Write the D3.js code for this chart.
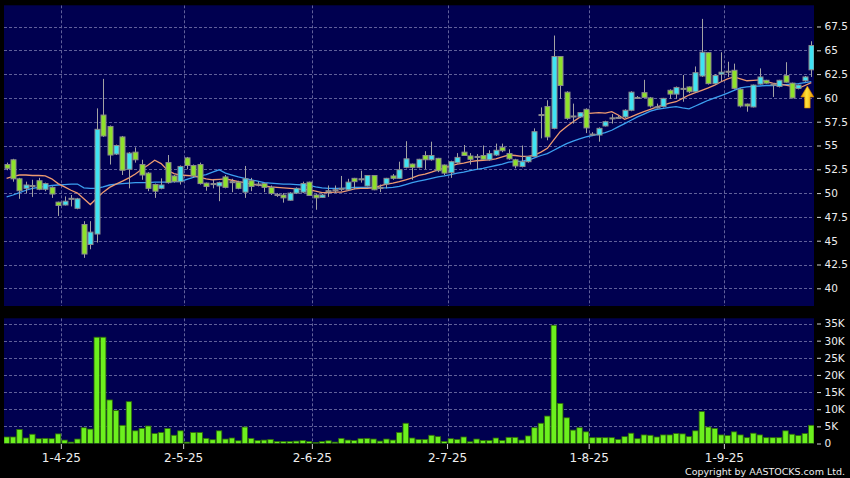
<!DOCTYPE html>
<html><head><meta charset="utf-8">
<script src="https://cdn.jsdelivr.net/npm/d3@7"></script>
<style>html,body{margin:0;padding:0;background:#000;} svg{display:block;}</style>
</head><body>
<svg id="chart" width="850" height="478"></svg>
<script>
// ---------------- DATA ----------------
const dates = [
"2025-03-19","2025-03-20","2025-03-21","2025-03-24","2025-03-25","2025-03-26","2025-03-27","2025-03-28","2025-03-31",
"2025-04-01","2025-04-02","2025-04-03","2025-04-07","2025-04-08","2025-04-09","2025-04-10","2025-04-11","2025-04-14","2025-04-15","2025-04-16","2025-04-17","2025-04-22","2025-04-23","2025-04-24","2025-04-25","2025-04-28","2025-04-29","2025-04-30",
"2025-05-02","2025-05-06","2025-05-07","2025-05-08","2025-05-09","2025-05-12","2025-05-13","2025-05-14","2025-05-15","2025-05-16","2025-05-19","2025-05-20","2025-05-21","2025-05-22","2025-05-23","2025-05-26","2025-05-27","2025-05-28","2025-05-29","2025-05-30",
"2025-06-02","2025-06-03","2025-06-04","2025-06-05","2025-06-06","2025-06-09","2025-06-10","2025-06-11","2025-06-12","2025-06-13","2025-06-16","2025-06-17","2025-06-18","2025-06-19","2025-06-20","2025-06-23","2025-06-24","2025-06-25","2025-06-26","2025-06-27","2025-06-30",
"2025-07-02","2025-07-03","2025-07-04","2025-07-07","2025-07-08","2025-07-09","2025-07-10","2025-07-11","2025-07-14","2025-07-15","2025-07-16","2025-07-17","2025-07-18","2025-07-21","2025-07-22","2025-07-23","2025-07-24","2025-07-25","2025-07-28","2025-07-29","2025-07-30","2025-07-31",
"2025-08-01","2025-08-04","2025-08-05","2025-08-06","2025-08-07","2025-08-08","2025-08-11","2025-08-12","2025-08-13","2025-08-14","2025-08-15","2025-08-18","2025-08-19","2025-08-20","2025-08-21","2025-08-22","2025-08-25","2025-08-26","2025-08-27","2025-08-28","2025-08-29",
"2025-09-01","2025-09-02","2025-09-03","2025-09-04","2025-09-05","2025-09-08","2025-09-09","2025-09-10","2025-09-11","2025-09-12","2025-09-15","2025-09-16","2025-09-17","2025-09-18"
];

const open = [
53.0,53.5,51.5,50.5,50.8,51.3,50.4,50.6,49.05,48.75,49.45,48.4,46.7,44.6,45.7,58.2,57.0,54.1,55.9,52.5,
54.3,53.0,52.1,50.9,50.5,53.2,51.8,51.2,53.7,52.9,53.0,51.05,51.0,50.75,51.7,51.2,51.15,50.1,51.3,50.95,
51.0,50.6,49.85,49.8,49.25,50.0,50.1,51.15,49.8,49.55,50.25,50.35,50.5,50.35,51.55,51.5,50.75,51.85,50.6,50.95,
51.8,51.55,52.7,53.05,52.7,53.95,53.5,53.65,52.95,52.15,53.2,54.3,53.9,53.85,53.95,53.5,54.0,54.8,54.15,53.5,
52.8,53.3,53.85,58.25,59.1,56.8,64.35,60.6,58.1,58.0,58.8,56.2,56.1,57.05,57.9,57.95,58.0,58.7,60.05,60.55,
60.0,59.05,59.1,60.8,60.4,61.0,61.15,60.65,62.3,64.75,61.5,62.5,62.8,62.9,60.9,59.35,59.05,61.45,61.85,61.45,
61.2,62.35,61.55,61.0,61.8,62.95
];
const high = [
53.2,53.6,51.6,51.2,51.4,51.6,51.1,50.7,49.1,49.65,49.8,49.5,47.05,47.05,58.9,62.0,57.1,55.1,56.0,54.3,
54.8,53.5,52.2,51.0,51.55,54.0,51.9,52.9,53.8,53.0,53.2,51.1,51.4,51.2,51.9,51.5,51.3,52.85,51.6,51.2,
51.1,50.8,50.0,50.0,50.1,50.6,51.2,51.2,49.9,49.9,50.8,50.8,51.8,51.5,51.6,52.35,51.9,51.9,50.9,51.6,
52.0,53.3,55.45,53.1,53.6,54.4,55.4,53.7,53.0,53.4,54.2,55.05,54.2,54.1,55.0,54.5,55.2,55.2,54.6,53.6,
55.0,53.9,56.8,59.0,59.75,66.55,64.4,60.7,59.4,58.5,58.9,56.4,56.9,57.6,58.3,58.1,58.8,60.7,60.2,61.9,
60.1,59.4,60.0,60.9,61.2,62.4,61.2,63.3,68.3,64.8,62.5,64.8,63.8,63.6,61.0,59.4,61.4,63.1,61.9,61.5,
61.9,63.75,61.6,61.4,62.3,65.95
];
const low = [
52.4,51.2,49.4,50.0,49.6,50.3,50.2,49.5,47.6,48.7,48.6,48.3,43.2,44.1,44.8,55.9,53.0,54.0,51.9,50.5,
53.2,51.4,50.2,49.5,50.4,51.0,51.1,50.9,52.5,51.6,50.9,50.25,50.5,49.15,50.5,50.1,50.4,49.5,50.2,50.7,
50.1,49.8,49.6,49.0,49.2,49.9,50.0,49.7,48.25,49.5,49.6,50.0,50.2,50.3,50.4,51.1,50.7,50.3,50.1,50.5,
51.4,51.5,52.6,51.4,52.6,52.5,53.4,52.2,51.9,51.6,53.1,53.9,53.0,52.5,53.5,53.4,53.9,54.3,53.5,52.6,
52.7,53.2,53.8,55.75,55.55,56.7,59.9,57.7,57.3,57.9,56.3,56.0,55.4,57.0,57.3,57.8,57.9,58.6,59.9,60.0,
59.0,58.9,59.0,59.9,59.9,59.6,60.5,60.6,62.2,61.4,61.4,61.7,62.2,60.9,59.0,58.55,59.0,61.4,61.5,60.1,
61.1,61.6,59.95,60.9,61.7,62.2
];
const close = [
52.6,51.5,50.25,50.85,50.75,50.4,51.0,49.9,48.7,49.15,49.4,49.4,43.6,45.9,56.7,56.0,54.0,55.0,52.4,54.2,
53.5,51.9,50.5,50.2,50.85,51.1,51.2,52.8,52.9,51.8,51.0,50.7,50.95,51.1,50.6,51.15,50.5,51.5,50.7,50.9,
50.6,49.95,49.8,49.5,50.0,50.5,51.0,49.75,49.5,49.8,50.2,50.3,50.45,51.15,51.2,51.45,51.85,50.35,50.55,51.55,
51.55,52.45,53.6,52.7,53.55,53.5,53.95,52.35,52.1,53.3,53.75,53.95,53.55,53.8,53.55,54.15,54.5,54.45,53.6,52.85,
53.3,53.85,56.45,58.2,55.9,64.35,61.3,57.85,58.05,58.45,56.85,56.15,56.8,57.5,57.85,57.9,58.7,60.6,60.0,60.05,
59.15,59.0,59.95,60.4,61.1,60.95,60.65,62.65,64.8,61.5,62.35,62.7,62.75,61.0,59.15,59.15,61.35,62.2,61.55,61.4,
61.85,61.65,60.0,61.35,62.2,65.5
];
// volume in thousands of shares
const volumeK = [
1.9,1.9,4.1,1.6,2.7,1.4,1.5,1.4,2.8,1.0,0.4,1.3,4.6,4.2,31.0,31.0,12.7,9.6,5.3,12.2,
3.7,4.4,5.1,2.9,3.2,4.4,2.4,3.7,0.4,3.2,3.2,1.5,1.1,3.7,1.3,1.6,0.8,4.8,1.5,0.9,
1.0,1.2,0.6,0.6,0.6,0.7,0.9,0.6,0.3,0.6,0.8,0.4,1.5,1.0,0.9,1.4,1.5,1.3,0.7,1.3,
1.0,3.2,5.9,1.6,1.2,1.2,2.4,2.0,0.6,1.4,1.2,1.9,0.5,1.3,0.9,0.9,1.6,0.9,1.8,1.8,
1.0,2.2,4.6,5.9,8.0,34.5,11.7,7.5,3.9,4.6,3.4,1.7,1.7,1.7,1.7,1.2,2.0,3.0,1.4,2.5,
2.4,1.9,2.5,2.5,2.9,2.8,2.0,3.7,9.3,4.8,4.4,2.5,2.3,3.4,2.5,1.7,3.0,2.5,1.7,1.7,
1.7,3.7,2.7,2.3,2.9,5.3
];
// moving averages as drawn on the chart (short = orange, long = blue)
const maShort = [
51.55,51.75,51.9,51.9,51.85,51.85,51.8,51.5,51.0,50.65,50.3,50.0,49.4,48.8,49.45,50.1,50.6,50.95,51.25,51.6,
52.0,52.5,52.95,53.45,53.1,52.4,52.05,51.9,51.85,51.8,51.65,51.5,51.4,51.45,51.5,51.35,51.2,51.1,50.95,50.85,
50.75,50.65,50.6,50.55,50.5,50.45,50.4,50.35,50.2,50.05,50.05,50.1,50.1,50.25,50.45,50.5,50.5,50.55,50.75,50.95,
51.05,51.2,51.4,51.6,51.85,52.0,52.2,52.45,52.65,52.85,53.05,53.15,53.3,53.4,53.45,53.5,53.6,53.8,54.0,53.95,
53.85,53.85,54.0,54.3,54.7,55.6,56.45,57.0,57.5,57.95,58.35,58.4,58.45,58.4,58.55,58.2,57.75,58.0,58.3,58.55,
58.8,59.05,59.25,59.45,59.6,59.95,60.3,60.55,60.8,61.05,61.35,61.7,62.0,62.2,62.0,61.8,61.85,61.9,61.7,61.55,
61.45,61.35,61.2,61.0,61.3,61.6
];
const maLong = [
49.6,49.8,50.05,50.3,50.5,50.6,50.7,50.8,50.85,50.9,50.95,50.95,50.55,50.5,50.5,50.65,50.85,50.95,51.0,51.05,
51.1,51.1,51.1,51.15,51.15,51.15,51.2,51.2,51.45,51.65,51.8,51.95,52.2,52.45,52.1,51.9,51.7,51.55,51.4,51.25,
51.1,51.05,51.0,50.95,50.95,50.9,50.85,50.8,50.65,50.55,50.5,50.5,50.5,50.55,50.6,50.6,50.6,50.6,50.55,50.55,
50.6,50.7,50.9,51.1,51.25,51.4,51.55,51.7,51.8,51.95,52.1,52.2,52.35,52.5,52.6,52.75,52.9,53.05,53.25,53.3,
53.35,53.45,53.7,53.95,54.15,54.5,54.85,55.2,55.45,55.7,55.9,56.05,56.2,56.35,56.6,56.95,57.3,57.65,58.0,58.3,
58.6,58.8,58.9,59.0,59.08,58.95,58.85,59.15,59.45,59.75,60.0,60.25,60.5,60.8,61.05,61.15,61.2,61.25,61.3,61.3,
61.35,61.4,61.45,61.5,61.6,61.7
];

const monthTicks = ["2025-04-01","2025-05-02","2025-06-02","2025-07-02","2025-08-01","2025-09-01"];
const monthTickLabels = ["1-4-25","2-5-25","2-6-25","2-7-25","1-8-25","1-9-25"];
const priceTicks = [40,42.5,45,47.5,50,52.5,55,57.5,60,62.5,65,67.5];
const priceTickLabels = ["40","42.5","45","47.5","50","52.5","55","57.5","60","62.5","65","67.5"];
const volumeTicks = [0,5000,10000,15000,20000,25000,30000,35000];
const volumeTickLabels = ["0","5K","10K","15K","20K","25K","30K","35K"];
const signalDate = "2025-09-17";
const signalPrice = 61.25;
const copyrightText = "Copyright by AASTOCKS.com Ltd.";

// ---------------- LAYOUT ----------------
const W = 850, H = 478;
const panelL = 4, panelR = 814;
const pTop = 5.3, pBot = 306;
const vTop = 318.3, vBot = 443.5;

const candles = dates.map((d,i)=>({date:d, open:open[i], high:high[i], low:low[i], close:close[i], vol:volumeK[i]*1000, maS:maShort[i], maL:maLong[i]}));

const svg = d3.select("#chart");
svg.append("rect").attr("width",W).attr("height",H).attr("fill","#000");

const x = d3.scaleBand().domain(dates).range([3.4, 814.5]).padding(0);
const bw = x.bandwidth();
const cx = d => x(d) + bw/2;
const yP = d3.scaleLinear().domain([40,67.5]).range([288.3,26.5]);
const yV = d3.scaleLinear().domain([0,35000]).range([443.5,323.5]);

const defs = svg.append("defs");
defs.append("clipPath").attr("id","clipP").append("rect")
  .attr("x",panelL).attr("y",pTop).attr("width",panelR-panelL).attr("height",pBot-pTop);
defs.append("clipPath").attr("id","clipV").append("rect")
  .attr("x",panelL).attr("y",vTop).attr("width",panelR-panelL).attr("height",vBot-vTop);
const grad = defs.append("linearGradient").attr("id","arrowGrad").attr("x1","0").attr("x2","1").attr("y1","0").attr("y2","0");
grad.append("stop").attr("offset","0%").attr("stop-color","#e89400");
grad.append("stop").attr("offset","45%").attr("stop-color","#ffe23a");
grad.append("stop").attr("offset","100%").attr("stop-color","#e89400");

const BG = "#000050", GRID = "#60609a";

// panels
svg.append("rect").attr("x",panelL).attr("y",pTop).attr("width",panelR-panelL).attr("height",pBot-pTop).attr("fill",BG);
svg.append("rect").attr("x",panelL).attr("y",vTop).attr("width",panelR-panelL).attr("height",vBot-vTop).attr("fill",BG);

// grid
const gp = svg.append("g").attr("clip-path","url(#clipP)");
gp.selectAll("line.h").data(priceTicks).join("line")
  .attr("x1",panelL).attr("x2",panelR).attr("y1",d=>Math.round(yP(d))+0.5).attr("y2",d=>Math.round(yP(d))+0.5)
  .attr("stroke",GRID).attr("stroke-dasharray","3,2");
gp.selectAll("line.v").data(monthTicks).join("line")
  .attr("x1",d=>Math.round(x(d))+0.5).attr("x2",d=>Math.round(x(d))+0.5).attr("y1",pTop).attr("y2",pBot)
  .attr("stroke",GRID).attr("stroke-dasharray","3,2");
const gv = svg.append("g").attr("clip-path","url(#clipV)");
gv.selectAll("line.h").data(volumeTicks.filter(v=>v>0)).join("line")
  .attr("x1",panelL).attr("x2",panelR).attr("y1",d=>Math.round(yV(d))+0.5).attr("y2",d=>Math.round(yV(d))+0.5)
  .attr("stroke",GRID).attr("stroke-dasharray","3,2");
gv.selectAll("line.v").data(monthTicks).join("line")
  .attr("x1",d=>Math.round(x(d))+0.5).attr("x2",d=>Math.round(x(d))+0.5).attr("y1",vTop).attr("y2",vBot)
  .attr("stroke",GRID).attr("stroke-dasharray","3,2");

// moving averages
const line = key => d3.line().x(d=>cx(d.date)).y(d=>yP(d[key]));
gp.append("path").datum(candles).attr("d",line("maL")).attr("fill","none").attr("stroke","#3b9ff0").attr("stroke-width",1.3);
gp.append("path").datum(candles).attr("d",line("maS")).attr("fill","none").attr("stroke","#ee9a70").attr("stroke-width",1.3);

// candles
const cg = gp.append("g");
cg.selectAll("line.wick").data(candles).join("line")
  .attr("x1",d=>Math.round(cx(d.date))+0.5).attr("x2",d=>Math.round(cx(d.date))+0.5)
  .attr("y1",d=>yP(d.high)).attr("y2",d=>yP(d.low))
  .attr("stroke","#a3a3a3").attr("stroke-width",1);
cg.selectAll("rect.body").data(candles).join("rect")
  .attr("x",d=>Math.round(cx(d.date))-2)
  .attr("width",5)
  .attr("y",d=>yP(Math.max(d.open,d.close)))
  .attr("height",d=>Math.max(1,Math.abs(yP(d.open)-yP(d.close))))
  .attr("fill",d=>Math.abs(d.open-d.close)<0.06 ? "#a0a0a0" : (d.close>d.open ? "#3fe3f3" : "#8ee12b"))
  .attr("stroke","#8c8c8c").attr("stroke-width",1);

// signal arrow
const ax = cx(signalDate) + 2.5, ay = yP(signalPrice);
svg.append("path")
  .attr("d",`M${ax},${ay} L${ax+6.5},${ay+11} L${ax+2.8},${ay+11} L${ax+2.8},${ay+22} L${ax-2.8},${ay+22} L${ax-2.8},${ay+11} L${ax-6.5},${ay+11} Z`)
  .attr("fill","url(#arrowGrad)").attr("stroke","#d08000").attr("stroke-width",0.6);

// volume bars
gv.selectAll("rect.vol").data(candles).join("rect")
  .attr("x",d=>x(d.date)+0.5).attr("width",bw-1)
  .attr("y",d=>yV(d.vol)).attr("height",d=>yV(0)-yV(d.vol))
  .attr("fill","#6cf01e").attr("stroke","#2f6a08").attr("stroke-width",0.8);

// right axes
const fontFam = "'DejaVu Sans', Verdana, sans-serif";
const axP = d3.axisRight(yP).tickValues(priceTicks).tickFormat((d,i)=>priceTickLabels[i]).tickSize(4).tickPadding(3.5);
const gaP = svg.append("g").attr("transform","translate(817,0)").call(axP);
const axV = d3.axisRight(yV).tickValues(volumeTicks).tickFormat((d,i)=>volumeTickLabels[i]).tickSize(4).tickPadding(3.5);
const gaV = svg.append("g").attr("transform","translate(817,0)").call(axV);
[gaP,gaV].forEach(g=>{
  g.select(".domain").remove();
  g.selectAll(".tick line").attr("stroke","#d0d0d0");
  g.selectAll(".tick text").attr("fill","#eeeeee").attr("font-family",fontFam).attr("font-size","10.5px");
});

// bottom axis (ticks at the start of each month's first session)
const axX = d3.axisBottom(x).tickValues(monthTicks).tickFormat((d,i)=>monthTickLabels[i]).tickSize(5).tickPadding(4.5);
const gaX = svg.append("g").attr("transform",`translate(${-bw/2},${vBot+0.5})`).call(axX);
gaX.select(".domain").remove();
gaX.selectAll(".tick line").attr("stroke","#d0d0d0");
gaX.selectAll(".tick text").attr("fill","#eeeeee").attr("font-family",fontFam).attr("font-size","12px");

// copyright
svg.append("text").attr("x",845).attr("y",475).attr("text-anchor","end")
  .attr("fill","#eeeeee").attr("font-family",fontFam).attr("font-size","9.5px")
  .text(copyrightText);
</script>
</body></html>
